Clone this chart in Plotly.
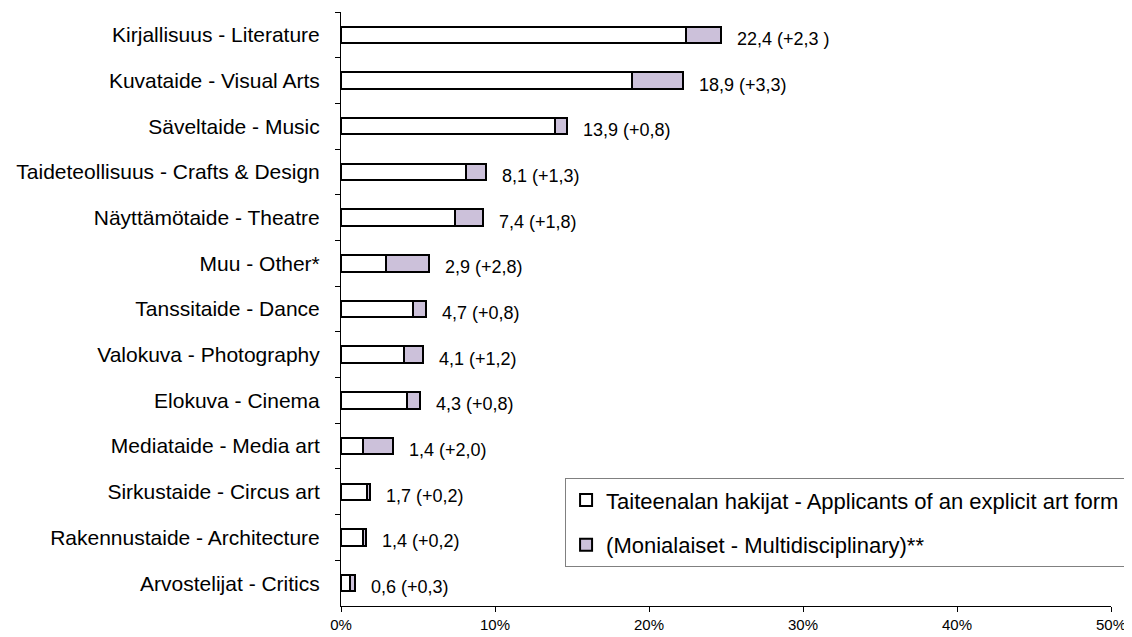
import plotly.graph_objects as go

categories = [
    "Kirjallisuus - Literature",
    "Kuvataide - Visual Arts",
    "Säveltaide - Music",
    "Taideteollisuus - Crafts & Design",
    "Näyttämötaide - Theatre",
    "Muu - Other*",
    "Tanssitaide - Dance",
    "Valokuva - Photography",
    "Elokuva - Cinema",
    "Mediataide - Media art",
    "Sirkustaide - Circus art",
    "Rakennustaide - Architecture",
    "Arvostelijat - Critics",
]
explicit = [22.4, 18.9, 13.9, 8.1, 7.4, 2.9, 4.7, 4.1, 4.3, 1.4, 1.7, 1.4, 0.6]
multi = [2.3, 3.3, 0.8, 1.3, 1.8, 2.8, 0.8, 1.2, 0.8, 2.0, 0.2, 0.2, 0.3]
value_labels = [
    "22,4 (+2,3 )", "18,9 (+3,3)", "13,9 (+0,8)", "8,1 (+1,3)", "7,4 (+1,8)",
    "2,9 (+2,8)", "4,7 (+0,8)", "4,1 (+1,2)", "4,3 (+0,8)", "1,4 (+2,0)",
    "1,7 (+0,2)", "1,4 (+0,2)", "0,6 (+0,3)",
]
x_ticks = [0, 10, 20, 30, 40, 50]
x_tick_text = ["0%", "10%", "20%", "30%", "40%", "50%"]

FONT = "Liberation Sans, Arial, sans-serif"

fig = go.Figure()
fig.add_trace(go.Bar(
    y=categories, x=explicit, orientation="h",
    name="Taiteenalan hakijat - Applicants of an explicit art form",
    marker=dict(color="white", line=dict(color="black", width=2)),
    legendgroup="a",
))
fig.add_trace(go.Bar(
    y=categories, x=multi, orientation="h",
    name="(Monialaiset - Multidisciplinary)**",
    marker=dict(color="#CCC1DA", line=dict(color="black", width=2)),
    legendgroup="b",
))

for cat, a, b, lab in zip(categories, explicit, multi, value_labels):
    fig.add_annotation(
        x=a + b, y=cat, text=lab, showarrow=False,
        xanchor="left", yanchor="middle", xshift=14, yshift=-4,
        font=dict(family=FONT, size=18, color="black"),
    )

# the page body adds an 8px offset, so the figure is 8px smaller than the window
fig.update_layout(
    barmode="stack",
    bargap=0.64,
    width=1124, height=629,
    margin=dict(l=333, r=21, t=4, b=29),
    paper_bgcolor="white", plot_bgcolor="white",
    font=dict(family=FONT, color="black"),
    showlegend=True,
    legend=dict(
        x=0.291, y=0.215, xanchor="left", yanchor="top",
        bgcolor="white", bordercolor="#808080", borderwidth=1,
        font=dict(family=FONT, size=22, color="black"),
        traceorder="grouped", tracegroupgap=13,
        itemwidth=30,
    ),
    xaxis=dict(
        range=[0, 50], tickvals=x_ticks, ticktext=x_tick_text,
        showgrid=False, zeroline=False,
        showline=True, linecolor="black", linewidth=1,
        ticks="outside", ticklen=5, tickcolor="black",
        tickfont=dict(family=FONT, size=15, color="black"),
    ),
    yaxis=dict(
        categoryorder="array", categoryarray=categories,
        autorange="reversed",
        showgrid=False, zeroline=False,
        showline=True, linecolor="black", linewidth=1,
        ticks="outside", ticklen=5, tickcolor="black",
        tickson="boundaries",
        ticklabelstandoff=16,
        tickfont=dict(family=FONT, size=21, color="black"),
    ),
)

fig.write_html("out.html")
